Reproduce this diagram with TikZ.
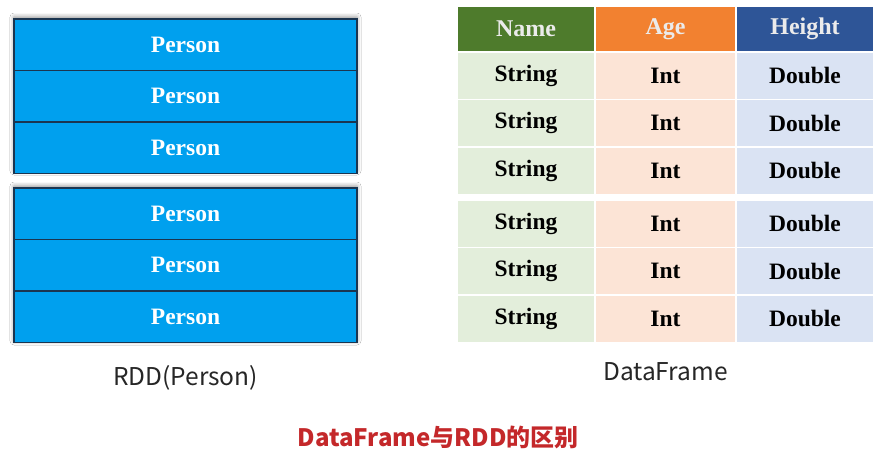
\documentclass[tikz,border=0pt]{standalone}
\usepackage{fontspec}
\setmainfont{Liberation Serif}
\newfontfamily\cjk{Noto Sans CJK SC}
\usetikzlibrary{shadows.blur}
\definecolor{rddblue}{HTML}{00A0EE}
\definecolor{rddedge}{HTML}{1B3550}
\definecolor{namehead}{HTML}{4E7B2C}
\definecolor{agehead}{HTML}{F28130}
\definecolor{heighthead}{HTML}{2E5597}
\definecolor{namecell}{HTML}{E3EEDB}
\definecolor{agecell}{HTML}{FCE4D6}
\definecolor{heightcell}{HTML}{DAE3F3}
\definecolor{titlered}{HTML}{C4282A}

\begin{document}
\begin{tikzpicture}[
        x=1pt, y=-1pt,
        rddrow/.style={
            rectangle,
            draw=rddedge, line width=1.3pt,
            fill=rddblue,
            minimum width=343pt, minimum height=51.5pt,
            inner sep=0pt,
            text=white, font=\fontsize{23.5}{28}\selectfont\bfseries
        },
        groupshade/.style={
            fill=rddblue,
            blur shadow={shadow xshift=0pt, shadow yshift=2pt, shadow blur radius=4pt, shadow opacity=45}
        },
        headcell/.style={
            rectangle, draw=white, line width=1.6pt,
            minimum height=46pt, inner sep=0pt,
            text=white!92!black, font=\fontsize{24}{28}\selectfont\bfseries
        },
        bodycell/.style={
            rectangle, draw=white, line width=1.6pt,
            minimum height=47.5pt, inner sep=0pt,
            text=black, font=\fontsize{23.5}{28}\selectfont\bfseries
        },
        caption/.style={font=\cjk\fontsize{24.5}{30}\selectfont, text=black!85}
    ]

    \useasboundingbox[fill=white] (0,0) rectangle (881,456);

    % RDD of Person objects (Left)
    \fill[groupshade] (14,19) rectangle (357,173);
    \fill[groupshade] (14,188) rectangle (357,343);
    \foreach \r/\cy in {1/44.75, 2/96.25, 3/147.75, 4/213.75, 5/265.25, 6/316.75} {
        \node[rddrow] (person\r) at (185.5,\cy) {Person};
    }
    \node[caption] (rddlabel) at (185.5,378) {RDD(Person)};

    % DataFrame with typed columns (Right)
    \foreach \col/\cx/\w/\head/\hcol/\bcol/\cell in {
            name/526/138/Name/namehead/namecell/String,
            age/665.5/141/Age/agehead/agecell/Int,
            height/805/138/Height/heighthead/heightcell/Double} {
        \node[headcell, fill=\hcol, minimum width=\w pt] (\col-head) at (\cx,29) {\head};
        \foreach \r/\cy in {1/75.75, 2/123.25, 3/170.75, 4/223.75, 5/271.25, 6/318.75} {
            \node[bodycell, fill=\bcol, minimum width=\w pt] (\col-\r) at (\cx,\cy) {\cell};
        }
    }
    \node[caption] (dflabel) at (665.5,372) {DataFrame};

    % Title
    \node[font=\cjk\bfseries\fontsize{24}{29}\selectfont, text=titlered] (title) at (438,437) {DataFrame与RDD的区别};

\end{tikzpicture}
\end{document}
